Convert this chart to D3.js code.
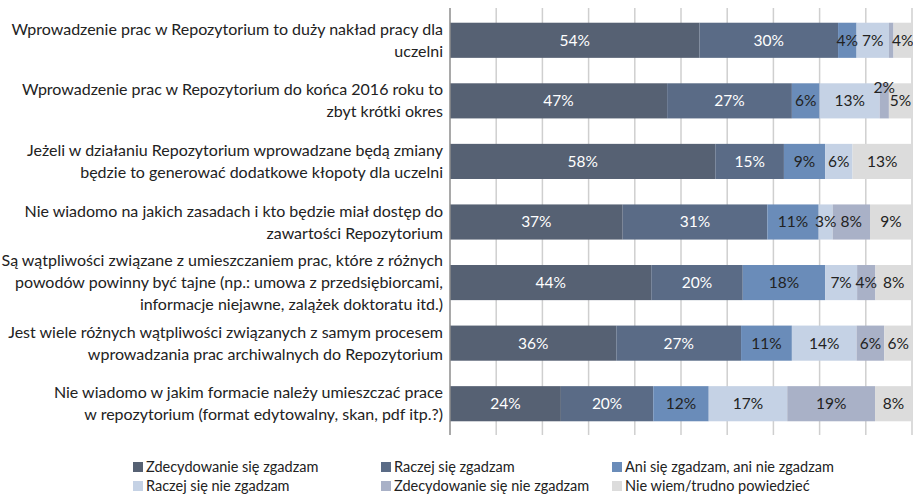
<!DOCTYPE html>
<html>
<head>
<meta charset="utf-8">
<script src="https://cdn.jsdelivr.net/npm/d3@7"></script>
<style>
  body { margin: 0; background: #fff; }
  text { font-family: Lato, "Open Sans", sans-serif; }
</style>
</head>
<body>
<div id="chart"></div>
<script>
// Stacked 100% bar chart

var svgWidth = 913;
var svgHeight = 494;

// Data
var questions = [
  ["Wprowadzenie prac w Repozytorium to duży nakład pracy dla", "uczelni"],
  ["Wprowadzenie prac w Repozytorium do końca 2016 roku to", "zbyt krótki okres"],
  ["Jeżeli w działaniu Repozytorium wprowadzane będą zmiany", "będzie to generować dodatkowe kłopoty dla uczelni"],
  ["Nie wiadomo na jakich zasadach i kto będzie miał dostęp do", "zawartości Repozytorium"],
  ["Są wątpliwości związane z umieszczaniem prac, które z różnych", "powodów powinny być tajne (np.: umowa z przedsiębiorcami,", "informacje niejawne, zalążek doktoratu itd.)"],
  ["Jest wiele różnych wątpliwości związanych z samym procesem", "wprowadzania prac archiwalnych do Repozytorium"],
  ["Nie wiadomo w jakim formacie należy umieszczać prace", "w repozytorium (format edytowalny, skan, pdf itp.?)"]
];

var answers = [
  "Zdecydowanie się zgadzam",
  "Raczej się zgadzam",
  "Ani się zgadzam, ani nie zgadzam",
  "Raczej się nie zgadzam",
  "Zdecydowanie się nie zgadzam",
  "Nie wiem/trudno powiedzieć"
];

var zdecydowanieTak = [54, 47, 58, 37, 44, 36, 24];
var raczejTak       = [30, 27, 15, 31, 20, 27, 20];
var aniAni          = [4, 6, 9, 11, 18, 11, 12];
var raczejNie       = [7, 13, 6, 3, 7, 14, 17];
var zdecydowanieNie = [1, 2, 0, 8, 4, 6, 19];
var nieWiem         = [4, 5, 13, 9, 8, 6, 8];

var colors = ["#566173", "#5a6b86", "#6a8cb9", "#c5d2e5", "#a9b1c7", "#dcdcdc"];
var labelColors = ["#fff", "#fff", "#222", "#222", "#222", "#222"];

var series = [zdecydowanieTak, raczejTak, aniAni, raczejNie, zdecydowanieNie, nieWiem];

var rows = questions.map(function(q, i) {
  var row = { idx: i };
  answers.forEach(function(a, j) { row[a] = series[j][i]; });
  return row;
});

var stacked = d3.stack()
  .keys(answers)
  .offset(d3.stackOffsetExpand)(rows);

var svg = d3.select("#chart").append("svg")
  .attr("width", svgWidth)
  .attr("height", svgHeight);

var x = d3.scaleLinear().domain([0, 1]).range([450, 912]);
var y = d3.scaleBand()
  .domain(d3.range(questions.length))
  .range([10, 434])
  .paddingInner(0.42)
  .paddingOuter(0.21);

// Gridlines
svg.append("g")
  .selectAll("line")
  .data(d3.range(1, 11).map(d => d / 10))
  .enter()
  .append("line")
  .attr("x1", d => x(d))
  .attr("x2", d => x(d))
  .attr("y1", 8)
  .attr("y2", 435)
  .attr("stroke", "#cfcfcf")
  .attr("stroke-width", 1.5);

// Bars
var layers = svg.append("g")
  .selectAll("g")
  .data(stacked)
  .enter()
  .append("g")
  .attr("fill", (d, i) => colors[i]);

layers.selectAll("rect")
  .data(d => d)
  .enter()
  .append("rect")
  .attr("x", d => x(d[0]))
  .attr("y", d => y(d.data.idx))
  .attr("width", d => x(d[1]) - x(d[0]))
  .attr("height", y.bandwidth());

// Value labels
stacked.forEach(function(layer, j) {
  svg.append("g")
    .selectAll("text")
    .data(layer.filter(d => d.data[answers[j]] >= 2))
    .enter()
    .append("text")
    .attr("x", d => (x(d[0]) + x(d[1])) / 2)
    .attr("y", function(d) {
      var cy = y(d.data.idx) + y.bandwidth() / 2;
      // tiny segment: label lifted above the bar
      return (x(d[1]) - x(d[0]) < 12) ? cy - 13 : cy;
    })
    .attr("dy", "0.35em")
    .attr("text-anchor", "middle")
    .attr("font-size", "15.5px")
    .attr("fill", labelColors[j])
    .text(d => d.data[answers[j]] + "%");
});

// Left axis line
svg.append("line")
  .attr("x1", 450).attr("x2", 450)
  .attr("y1", 8).attr("y2", 435)
  .attr("stroke", "#8c8c8c")
  .attr("stroke-width", 1.5);

// Category labels
var lineH = 22;
questions.forEach(function(lines, i) {
  var cy = y(i) + y.bandwidth() / 2;
  var t = svg.append("text")
    .attr("text-anchor", "end")
    .attr("font-size", "16px")
    .attr("fill", "#222");
  lines.forEach(function(l, k) {
    t.append("tspan")
      .attr("x", 443)
      .attr("y", cy + (k - (lines.length - 1) / 2) * lineH)
      .attr("dy", "0.35em")
      .text(l);
  });
});

// Legend
var legendPos = [[133, 467], [381, 467], [612, 467], [133, 486], [381, 486], [612, 486]];
var legend = svg.append("g")
  .selectAll("g")
  .data(answers)
  .enter()
  .append("g")
  .attr("transform", (d, i) => `translate(${legendPos[i][0]}, ${legendPos[i][1]})`);

legend.append("rect")
  .attr("x", 0)
  .attr("y", -5)
  .attr("width", 10)
  .attr("height", 10)
  .attr("fill", (d, i) => colors[i]);

legend.append("text")
  .attr("x", 13)
  .attr("y", 0)
  .attr("dy", "0.35em")
  .attr("font-size", "14.5px")
  .attr("fill", "#222")
  .text(d => d);
</script>
</body>
</html>
